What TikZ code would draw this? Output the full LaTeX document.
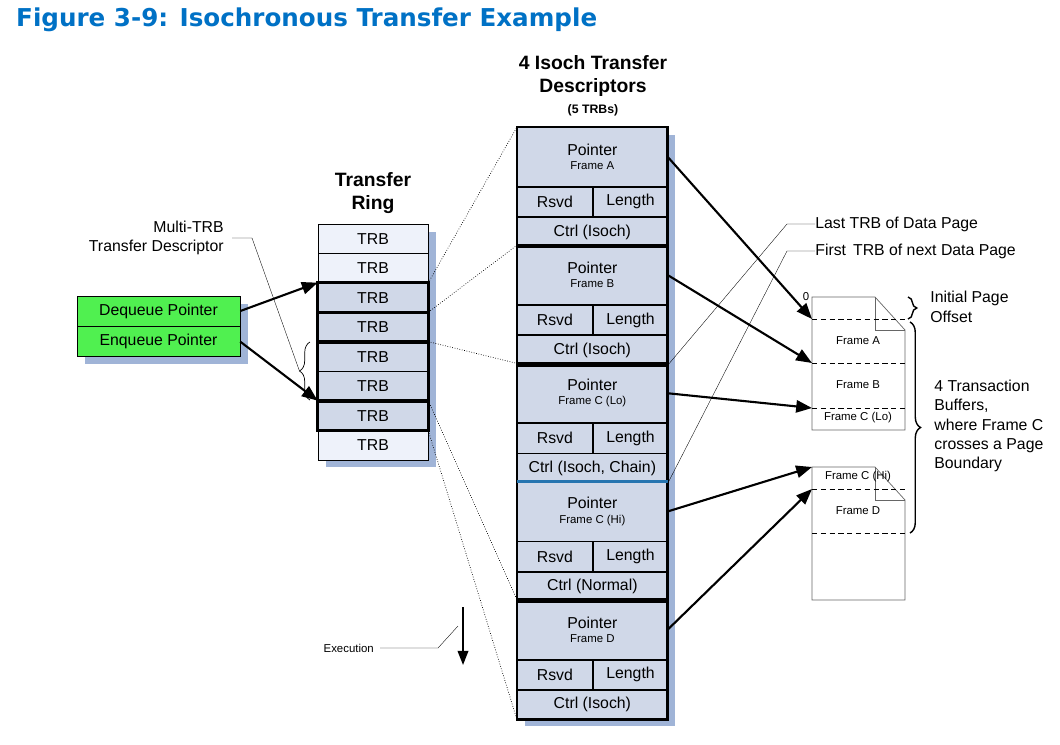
\documentclass[tikz,border=0pt]{standalone}
\usepackage{fontspec}
\setmainfont{Liberation Sans}
\newfontfamily\titlefont{DejaVu Sans}
\usetikzlibrary{arrows.meta,positioning,decorations.pathreplacing}
\definecolor{introblue}{RGB}{0,113,197}
\definecolor{trbfill}{RGB}{208,216,232}
\definecolor{trblight}{RGB}{238,242,250}
\definecolor{shadowblue}{RGB}{160,180,215}
\definecolor{ptrgreen}{RGB}{80,240,80}
\tikzset{
  cell/.style={draw, fill=trbfill, inner sep=0pt, font=\fontsize{9}{10}\selectfont},
  trb/.style={cell, minimum width=2.2cm, minimum height=0.59cm},
  ptr/.style={cell, fill=ptrgreen, minimum width=3.26cm, minimum height=0.6cm},
  big/.style={cell, minimum width=3cm, minimum height=1.18cm},
  half/.style={cell, minimum width=1.5cm, minimum height=0.59cm},
  full/.style={cell, minimum width=3cm, minimum height=0.59cm},
  heavy/.style={line width=1.6pt},
  hint/.style={thin, densely dotted},
  lead/.style={very thin},
  bigarrow/.style={line width=1.2pt, -{Triangle[length=9pt,width=7pt]}},
  note/.style={font=\fontsize{9}{11}\selectfont, align=left, inner sep=0pt},
  small/.style={font=\fontsize{6.5}{7}\selectfont}
}
\begin{document}
\begin{tikzpicture}[x=0.02cm,y=-0.02cm]
\useasboundingbox (0,0) rectangle (1060,744);
\node[anchor=west, text=introblue, font=\titlefont\bfseries\fontsize{14}{16}\selectfont] at (10,20) {Figure 3-9: Isochronous Transfer Example};

% pointers
\fill[shadowblue] (85,304) rectangle (248,364);
\node[ptr] (deq) at (158.5,311) {Dequeue Pointer};
\node[ptr, below=0pt of deq] (enq) {Enqueue Pointer};

% transfer ring
\node[font=\bfseries\fontsize{11}{13}\selectfont, align=center] at (373,193) {Transfer\\Ring};
\fill[shadowblue] (326,232) rectangle (436,467);
\foreach \i in {0,...,7}
  \node[trb] (r\i) at (373,238.75+29.5*\i) {TRB};
\foreach \i in {0,1,7} \node[trb, fill=trblight] at (r\i) {TRB};
\draw[heavy] (r2.north west) rectangle (r2.south east);
\draw[heavy] (r3.north west) rectangle (r3.south east);
\draw[heavy] (r4.north west) rectangle (r5.south east);
\draw[heavy] (r6.north west) rectangle (r6.south east);
\draw[decorate, decoration={brace, amplitude=6pt}] (310,400) -- (310,342) coordinate[pos=0.5, xshift=-6pt] (tdtip);
\node[note, align=right, anchor=east] (tdlbl) at (224,238) {Multi-TRB\\Transfer Descriptor};
\draw[lead] (232,238) -- (252,238) -- (tdtip);

\draw[bigarrow] (deq.east) -- (r2.north west);
\draw[bigarrow] (enq.east) -- (r6.north west);

% descriptors
\node[font=\bfseries\fontsize{11}{13}\selectfont, align=center] at (593,76) {4 Isoch Transfer\\Descriptors};
\node[font=\bfseries\fontsize{7}{8}\selectfont] at (593,110) {(5 TRBs)};
\fill[shadowblue] (525,135) rectangle (675,726);
\foreach \n/\y/\f/\c in {1/127/Frame A/Ctrl (Isoch), 2/245.2/Frame B/Ctrl (Isoch), 3/363.4/Frame C (Lo)/{Ctrl (Isoch, Chain)}, 4/481.6/Frame C (Hi)/Ctrl (Normal), 5/599.8/Frame D/Ctrl (Isoch)} {
  \node[big, anchor=north west, align=center] (p\n) at (517,\y) {Pointer\\[-2pt]{\small\fontsize{6.5}{7}\selectfont \f}};
  \node[half, below=0pt of p\n.south west, anchor=north west] (rs\n) {Rsvd};
  \node[half, right=0pt of rs\n] (ln\n) {Length};
  \node[full, below=0pt of rs\n.south west, anchor=north west] (c\n) {\c};
}
\draw[heavy] (p1.north west) rectangle (c1.south east);
\draw[heavy] (p2.north west) rectangle (c2.south east);
\draw[heavy] (p3.north west) rectangle (c4.south east);
\draw[heavy] (p5.north west) rectangle (c5.south east);
\draw[line width=1.6pt, introblue!70!gray] (p4.north west) -- (p4.north east);

\draw[hint] (r2.north east) -- (p1.north west);
\draw[hint] (r3.north east) -- (p2.north west);
\draw[hint] (r4.north east) -- (p3.north west);
\draw[hint] (r6.north east) -- (p5.north west);
\draw[hint] (r6.south east) -- (c5.south west);

% data pages
\foreach \pg/\y in {a/297, b/467} {
  \draw[gray!80!black, fill=white] (812,\y) -- (875,\y) -- (905,\y+33) -- (905,\y+133) -- (812,\y+133) -- cycle;
  \draw[gray!80!black] (875,\y) -- (875,\y+33) -- (905,\y+33);
  \coordinate (\pg) at (812,\y);
}
\foreach \y/\nm in {319/la, 363/lb, 408/lc, 489/ld, 533/le}
  \draw[densely dashed] (812,\y) coordinate (\nm) -- (905,\y);
\node[small] at (806,297) {0};
\node[small] at (858,341) {Frame A};
\node[small] at (858,385) {Frame B};
\node[small] at (858,418) {Frame C (Lo)};
\node[small] at (858,477) {Frame C (Hi)};
\node[small] at (858,511) {Frame D};

\draw[bigarrow] (p1.east) -- (la);
\draw[bigarrow] (p2.east) -- (lb);
\draw[bigarrow] (p3.east) -- (lc);
\draw[bigarrow] (p4.east) -- (b);
\draw[bigarrow] (p5.east) -- (ld);

\node[note, anchor=west] (last) at (815,224) {Last TRB of Data Page};
\node[note, anchor=west] (first) at (815,251) {First\, TRB of next Data Page};
\draw[lead] (last.west) -- (787,224) -- (c2.south east);
\draw[lead] (first.west) -- (787,251) -- (c3.south east);

\draw[decorate, decoration={brace, amplitude=5pt}, thick] (908,297) -- (908,319) coordinate[pos=0.5, xshift=5pt] (bo);
\node[note, anchor=west] at (930,307) {Initial Page\\Offset};
\draw[decorate, decoration={brace, amplitude=6pt}, thick] (910,322) -- (910,533);
\node[note, anchor=west] at (934,426) {4 Transaction\\Buffers,\\where Frame C\\crosses a Page\\Boundary};

% execution
\node[font=\fontsize{6.5}{7}\selectfont, anchor=east] (exe) at (380,648) {Execution};
\draw[lead] (exe.east) -- (438,648) -- (458,626);
\draw[line width=1pt, -{Triangle[length=8pt,width=6pt]}] (463,607) -- (463,665);
\end{tikzpicture}
\end{document}
